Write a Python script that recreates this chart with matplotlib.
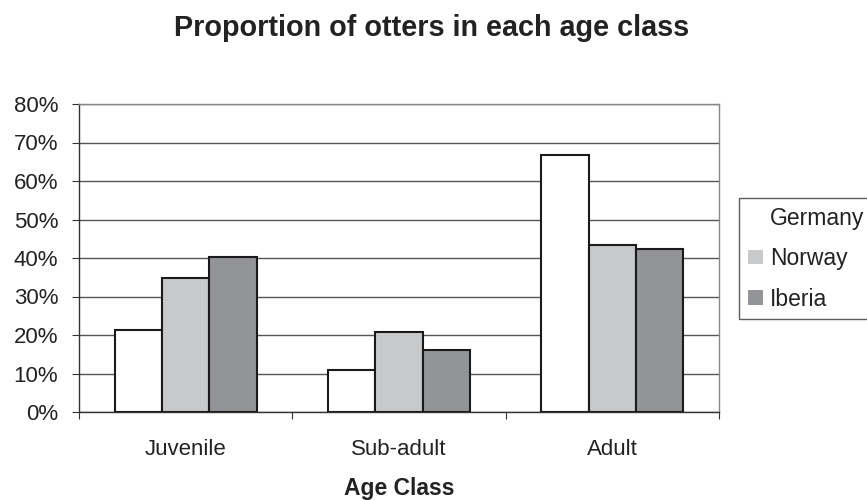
import matplotlib
matplotlib.use("Agg")
import matplotlib.pyplot as plt
import numpy as np
from matplotlib.ticker import FixedLocator, NullFormatter, PercentFormatter

categories = ["Juvenile", "Sub-adult", "Adult"]
series = ["Germany", "Norway", "Iberia"]
germany = [21.4, 10.8, 66.8]
norway = [34.9, 20.8, 43.5]
iberia = [40.3, 16.2, 42.3]
colors = ["#ffffff", "#c8c9cb", "#939497"]

plt.rcParams['font.family'] = ['Liberation Sans', 'DejaVu Sans']
plt.rcParams['text.color'] = '#222222'
plt.rcParams['xtick.color'] = '#333333'
plt.rcParams['ytick.color'] = '#333333'
plt.rcParams['xtick.labelcolor'] = '#222222'
plt.rcParams['ytick.labelcolor'] = '#222222'

fig = plt.figure(figsize=(8.67, 5.0), dpi=100)
ax = fig.add_axes([79/867, 88/500, 640/867, 308/500])

n = len(series)
gap = 1.5
bw = 1.0 / (n + gap)
x = np.arange(len(categories))
vals = [germany, norway, iberia]
for i, (name, v, c) in enumerate(zip(series, vals, colors)):
    pos = x - (n * bw) / 2 + bw * (i + 0.5)
    ax.bar(pos, v, width=bw, color=c, edgecolor="#1a1a1a", linewidth=1.5,
           label=name, zorder=3)

ax.set_xlim(-0.5, len(categories) - 0.5)
ax.set_ylim(0, 80)
ax.set_yticks(np.arange(0, 81, 10))
ax.yaxis.set_major_formatter(PercentFormatter(decimals=0))
ax.yaxis.grid(True, color="#555555", linewidth=1.0, zorder=0)

ax.xaxis.set_major_locator(FixedLocator(np.arange(-0.5, len(categories), 1.0)))
ax.xaxis.set_major_formatter(NullFormatter())
ax.xaxis.set_minor_locator(FixedLocator(x))
ax.set_xticklabels(categories, minor=True)
ax.tick_params(axis="x", which="minor", length=0, pad=19.5, labelsize=16)
ax.tick_params(axis="x", which="major", length=5, direction="out")
ax.tick_params(axis="y", length=5, direction="out", labelsize=16, pad=10)

for s in ["top", "right"]:
    ax.spines[s].set_color("#888888")
    ax.spines[s].set_linewidth(1.0)
for s in ["left", "bottom"]:
    ax.spines[s].set_color("#333333")
    ax.spines[s].set_linewidth(1.0)

fig.text(399/867, 5/500, "Age Class", ha="center", va="baseline",
         fontsize=16.5, fontweight="bold")
fig.text(432/867, 1 - 36/500, "Proportion of otters in each age class",
         ha="center", va="baseline", fontsize=20.7, fontweight="bold")

handles, labels = ax.get_legend_handles_labels()
leg = fig.legend(handles, labels, loc="upper left",
                 bbox_to_anchor=(739/867, 1 - 198/500),
                 fontsize=16.5, frameon=True, fancybox=False,
                 edgecolor="#333333", handlelength=0.66, handleheight=0.58,
                 handletextpad=0.3, labelspacing=0.76, borderpad=0.38,
                 borderaxespad=0)
leg.get_frame().set_linewidth(1.0)
for h in leg.legend_handles:
    h.set_edgecolor("none")

fig.savefig("out.png", dpi=100)
